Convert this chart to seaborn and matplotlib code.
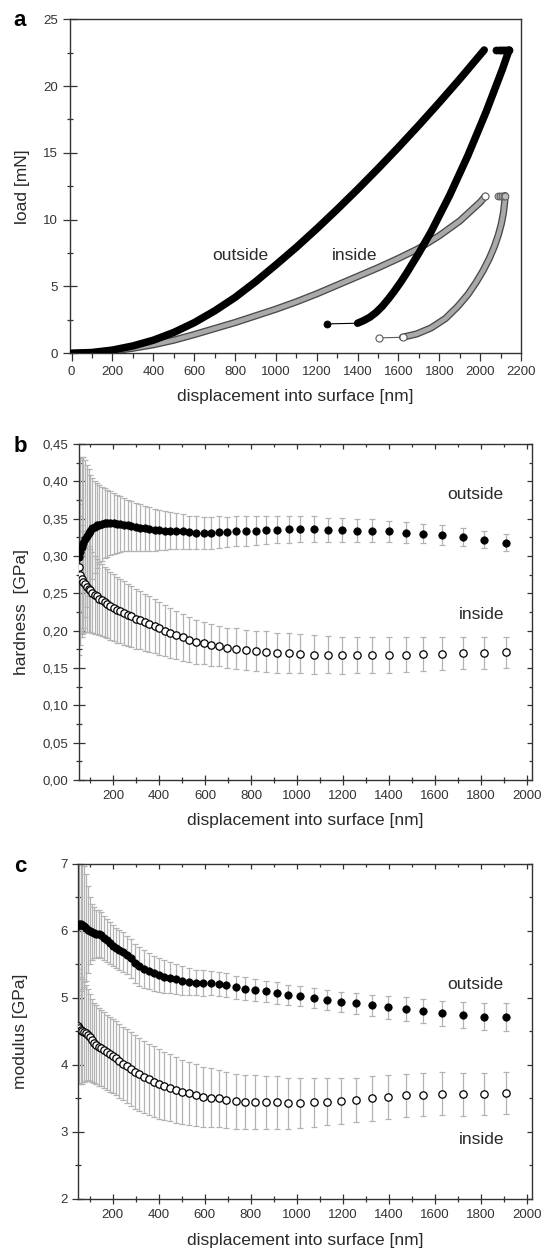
import matplotlib
matplotlib.use('Agg')
import matplotlib.pyplot as plt
from matplotlib.ticker import MultipleLocator, FuncFormatter
import seaborn as sns

# ---- panel a: load vs displacement ----
out_load_x = [0, 100, 200, 300, 400, 500, 600, 700, 800, 900, 1000, 1100, 1200, 1300,
              1400, 1500, 1600, 1700, 1800, 1900, 2020]
out_load_y = [0, 0.06, 0.24, 0.55, 0.98, 1.56, 2.29, 3.17, 4.18, 5.35, 6.62, 7.93, 9.32,
              10.77, 12.27, 13.82, 15.42, 17.07, 18.77, 20.52, 22.7]
out_hold_x = [2080, 2090, 2100, 2110, 2120, 2130, 2142]
out_hold_y = [22.7, 22.7, 22.7, 22.7, 22.7, 22.7, 22.7]
out_unload_x = [2142, 2128, 2110, 2090, 2060, 2030, 2000, 1970, 1940, 1910, 1880, 1850,
                1820, 1790, 1760, 1730, 1700, 1670, 1640, 1610, 1580, 1550, 1520, 1490,
                1460, 1430, 1400]
out_unload_y = [22.7, 22.1, 21.3, 20.5, 19.3, 18.1, 17.0, 15.9, 14.8, 13.8, 12.8, 11.8,
                10.9, 10.0, 9.1, 8.3, 7.5, 6.75, 6.0, 5.3, 4.65, 4.05, 3.5, 3.05,
                2.7, 2.45, 2.25]
out_tail_x = [1400, 1252]
out_tail_y = [2.25, 2.2]

in_load_x = [0, 100, 200, 300, 400, 500, 600, 700, 800, 900, 1000, 1100, 1200, 1300,
             1400, 1500, 1600, 1700, 1800, 1900, 2000, 2025]
in_load_y = [0, 0.04, 0.17, 0.38, 0.64, 0.98, 1.4, 1.85, 2.3, 2.8, 3.3, 3.85, 4.45, 5.1,
             5.75, 6.4, 7.1, 7.85, 8.8, 9.9, 11.3, 11.75]
in_hold_x = [2085, 2095, 2105, 2115, 2122]
in_hold_y = [11.8, 11.8, 11.8, 11.8, 11.8]
in_unload_x = [2122, 2120, 2114, 2104, 2090, 2070, 2045, 2015, 1980, 1940, 1890, 1830,
               1760, 1690, 1620]
in_unload_y = [11.8, 11.3, 10.5, 9.7, 8.9, 8.0, 7.1, 6.2, 5.3, 4.4, 3.5, 2.6,
               1.9, 1.45, 1.2]
in_tail_x = [1620, 1505]
in_tail_y = [1.2, 1.15]

# ---- panels b, c: hardness and modulus vs displacement ----
disp = [50, 56, 62, 69, 76, 84, 92, 100, 109, 119, 129, 139, 150, 162, 174, 187, 201,
        215, 230, 246, 262, 279, 297, 316, 336, 357, 380, 401, 425, 449, 475, 502, 531,
        561, 593, 626, 661, 695, 735, 777, 821, 866, 913, 963, 1015, 1074, 1133, 1195,
        1260, 1328, 1399, 1475, 1550, 1633, 1724, 1814, 1909]

hard_out = [0.298, 0.306, 0.312, 0.318, 0.323, 0.327, 0.331, 0.334, 0.337, 0.339, 0.341,
            0.342, 0.343, 0.344, 0.344, 0.344, 0.344, 0.343, 0.343, 0.342, 0.341, 0.340,
            0.339, 0.338, 0.337, 0.336, 0.335, 0.335, 0.334, 0.334, 0.333, 0.333, 0.332,
            0.331, 0.331, 0.331, 0.332, 0.332, 0.333, 0.334, 0.334, 0.335, 0.335, 0.336,
            0.336, 0.336, 0.335, 0.335, 0.334, 0.334, 0.333, 0.331, 0.330, 0.328, 0.325,
            0.322, 0.318]
hard_out_err = [0.13, 0.125, 0.12, 0.115, 0.105, 0.095, 0.085, 0.075, 0.068, 0.062, 0.057,
                0.053, 0.05, 0.047, 0.045, 0.043, 0.041, 0.039, 0.037, 0.035, 0.034, 0.033,
                0.032, 0.031, 0.030, 0.029, 0.028, 0.027, 0.026, 0.025, 0.024, 0.023, 0.022,
                0.022, 0.021, 0.021, 0.021, 0.020, 0.020, 0.020, 0.019, 0.019, 0.018, 0.018,
                0.017, 0.017, 0.016, 0.016, 0.015, 0.015, 0.014, 0.014, 0.013, 0.013, 0.012,
                0.011, 0.011]
hard_in = [0.285, 0.275, 0.269, 0.265, 0.262, 0.259, 0.256, 0.254, 0.251, 0.248, 0.246,
           0.243, 0.241, 0.238, 0.236, 0.233, 0.231, 0.228, 0.226, 0.224, 0.221, 0.219,
           0.216, 0.214, 0.211, 0.209, 0.206, 0.203, 0.200, 0.197, 0.194, 0.191, 0.188,
           0.185, 0.183, 0.181, 0.179, 0.177, 0.176, 0.174, 0.173, 0.172, 0.170, 0.170,
           0.169, 0.168, 0.168, 0.167, 0.167, 0.167, 0.167, 0.168, 0.169, 0.169, 0.170,
           0.170, 0.171]
hard_in_err = [0.085, 0.078, 0.073, 0.068, 0.064, 0.061, 0.058, 0.056, 0.054, 0.052, 0.050,
               0.049, 0.048, 0.047, 0.046, 0.045, 0.045, 0.044, 0.043, 0.043, 0.042, 0.041,
               0.040, 0.039, 0.038, 0.037, 0.036, 0.035, 0.034, 0.033, 0.032, 0.031, 0.030,
               0.029, 0.028, 0.028, 0.027, 0.027, 0.027, 0.027, 0.027, 0.027, 0.027, 0.027,
               0.026, 0.026, 0.025, 0.025, 0.024, 0.024, 0.024, 0.023, 0.023, 0.022, 0.022,
               0.021, 0.021]

mod_out = [6.08, 6.10, 6.10, 6.09, 6.07, 6.05, 6.02, 6.00, 5.98, 5.97, 5.96, 5.96, 5.94,
           5.90, 5.86, 5.82, 5.78, 5.74, 5.71, 5.68, 5.64, 5.59, 5.52, 5.47, 5.43, 5.40,
           5.37, 5.34, 5.32, 5.30, 5.28, 5.26, 5.24, 5.23, 5.22, 5.22, 5.21, 5.19, 5.16,
           5.14, 5.12, 5.10, 5.075, 5.05, 5.025, 5.00, 4.97, 4.945, 4.92, 4.89, 4.86, 4.83,
           4.80, 4.77, 4.745, 4.72, 4.72]
mod_out_err = [1.1, 1.05, 1.0, 0.95, 0.9, 0.8, 0.65, 0.5, 0.42, 0.38, 0.36, 0.35, 0.34,
               0.33, 0.32, 0.31, 0.31, 0.30, 0.30, 0.30, 0.29, 0.29, 0.29, 0.29, 0.28, 0.27,
               0.26, 0.25, 0.24, 0.23, 0.22, 0.21, 0.20, 0.19, 0.19, 0.18, 0.18, 0.18, 0.17,
               0.17, 0.16, 0.16, 0.16, 0.15, 0.15, 0.15, 0.15, 0.15, 0.16, 0.16, 0.17, 0.18,
               0.18, 0.19, 0.19, 0.20, 0.21]
mod_in = [4.58, 4.55, 4.52, 4.50, 4.49, 4.48, 4.45, 4.41, 4.37, 4.33, 4.30, 4.27, 4.25,
          4.22, 4.19, 4.16, 4.13, 4.10, 4.06, 4.02, 3.98, 3.94, 3.90, 3.86, 3.82, 3.79,
          3.75, 3.72, 3.69, 3.66, 3.63, 3.60, 3.58, 3.55, 3.52, 3.51, 3.50, 3.48, 3.46,
          3.45, 3.45, 3.44, 3.44, 3.43, 3.43, 3.44, 3.45, 3.46, 3.48, 3.50, 3.52, 3.55,
          3.556, 3.57, 3.56, 3.57, 3.58]
mod_in_err = [0.85, 0.82, 0.8, 0.78, 0.75, 0.72, 0.68, 0.65, 0.62, 0.6, 0.59, 0.58, 0.57,
              0.57, 0.56, 0.56, 0.55, 0.55, 0.55, 0.55, 0.55, 0.55, 0.55, 0.54, 0.54, 0.53,
              0.53, 0.52, 0.51, 0.5, 0.49, 0.48, 0.47, 0.46, 0.45, 0.44, 0.43, 0.42, 0.41,
              0.4, 0.4, 0.39, 0.39, 0.38, 0.37, 0.36, 0.35, 0.34, 0.33, 0.33, 0.33, 0.32,
              0.32, 0.32, 0.32, 0.31, 0.31]

sns.set_style("ticks")
plt.rcParams['font.family'] = ['Liberation Sans', 'DejaVu Sans']
plt.rcParams['axes.edgecolor'] = '#333333'
plt.rcParams['axes.linewidth'] = 1.0

TXT = '#2a2a2a'
fig = plt.figure(figsize=(5.44, 12.51), dpi=100)

ax_a = fig.add_axes([0.1287, 0.7176, 0.829, 0.267])
ax_b = fig.add_axes([0.1458, 0.3765, 0.8316, 0.2686])
ax_c = fig.add_axes([0.1443, 0.0416, 0.8331, 0.2678])


def comma(v, pos, nd):
	return f"{v:.{nd}f}".replace('.', ',')


def style_ticks(ax, xmaj, xmin, ymaj, ymin, xdir, ydir, xlen, ylen, mirror):
	ax.xaxis.set_major_locator(MultipleLocator(xmaj))
	ax.xaxis.set_minor_locator(MultipleLocator(xmin))
	ax.yaxis.set_major_locator(MultipleLocator(ymaj))
	ax.yaxis.set_minor_locator(MultipleLocator(ymin))
	ax.tick_params(axis='x', which='major', direction=xdir, length=xlen[0], width=0.9,
				   color='#333333', labelsize=9.5, labelcolor='#333333', pad=3.5)
	ax.tick_params(axis='x', which='minor', direction=xdir, length=xlen[1], width=0.9,
				   color='#333333')
	ax.tick_params(axis='y', which='major', direction=ydir, length=ylen[0], width=0.9,
				   color='#333333', labelsize=9.5, labelcolor='#333333', pad=3.5)
	ax.tick_params(axis='y', which='minor', direction=ydir, length=ylen[1], width=0.9,
				   color='#333333')
	for s in ax.spines.values():
		s.set_visible(True)
		s.set_color('#333333')
	if mirror:
		top = ax.secondary_xaxis('top')
		top.xaxis.set_major_locator(MultipleLocator(xmaj))
		top.xaxis.set_minor_locator(MultipleLocator(xmin))
		top.tick_params(axis='x', which='major', direction='in', length=3.5, width=0.9,
						color='#333333', labeltop=False)
		top.tick_params(axis='x', which='minor', direction='in', length=2.2, width=0.9,
						color='#333333')
		top.spines['top'].set_visible(False)
		right = ax.secondary_yaxis('right')
		right.yaxis.set_major_locator(MultipleLocator(ymaj))
		right.yaxis.set_minor_locator(MultipleLocator(ymin))
		right.tick_params(axis='y', which='major', direction='in', length=3.5, width=0.9,
						  color='#333333', labelright=False)
		right.tick_params(axis='y', which='minor', direction='in', length=2.2, width=0.9,
						  color='#333333')
		right.spines['right'].set_visible(False)


# ---- panel a ----
ax = ax_a
thick = dict(sort=False, estimator=None, ax=ax, solid_capstyle='round',
			 solid_joinstyle='round')
sns.lineplot(x=out_load_x, y=out_load_y, color='black', linewidth=5.4, zorder=3, **thick)
sns.lineplot(x=out_unload_x, y=out_unload_y, color='black', linewidth=5.4, zorder=3, **thick)
sns.scatterplot(x=out_hold_x, y=out_hold_y, ax=ax, color='black', s=26,
				edgecolor='black', linewidth=0.5, zorder=3)
sns.lineplot(x=out_tail_x, y=out_tail_y, sort=False, estimator=None, ax=ax,
			 color='black', linewidth=0.8, zorder=2)
sns.scatterplot(x=out_tail_x[-1:], y=out_tail_y[-1:], ax=ax, color='black', s=26,
				edgecolor='black', linewidth=0.5, zorder=3)

for xs, ys in [(in_load_x, in_load_y), (in_unload_x, in_unload_y)]:
	sns.lineplot(x=xs, y=ys, color='#4a4a4a', linewidth=5.2, zorder=2, **thick)
	sns.lineplot(x=xs, y=ys, color='#a9a9a9', linewidth=3.3, zorder=2, **thick)
sns.scatterplot(x=in_hold_x, y=in_hold_y, ax=ax, color='#bdbdbd', s=24,
				edgecolor='#5a5a5a', linewidth=0.7, zorder=3)
sns.scatterplot(x=in_load_x[-1:], y=in_load_y[-1:], ax=ax, color='white', s=26,
				edgecolor='#5a5a5a', linewidth=0.8, zorder=4)
sns.lineplot(x=in_tail_x, y=in_tail_y, sort=False, estimator=None, ax=ax,
			 color='#5a5a5a', linewidth=0.8, zorder=2)
sns.scatterplot(x=in_tail_x, y=in_tail_y, ax=ax, color='white', s=26,
				edgecolor='#5a5a5a', linewidth=0.8, zorder=4)

ax.text(825, 7.35, 'outside', ha='center', va='center', fontsize=12.5, color=TXT)
ax.text(1384, 7.35, 'inside', ha='center', va='center', fontsize=12.5, color=TXT)
ax.set_xlim(-8, 2200)
ax.set_ylim(0, 25)
style_ticks(ax, 200, 100, 5, 2.5, 'out', 'inout', (5.5, 3.5), (10, 5), False)
ax.set_xlabel('displacement into surface [nm]', fontsize=12.5, color=TXT)
ax.set_ylabel('load [mN]', fontsize=12.5, color=TXT)
ax.xaxis.set_label_coords(0.5, -0.107)
ax.yaxis.set_label_coords(-0.089, 0.5)


# ---- panels b, c ----
def property_panel(ax, y_out, e_out, y_in, e_in):
	ax.errorbar(disp, y_out, yerr=e_out, fmt='none', ecolor='#b3b3b3', elinewidth=0.9,
				capsize=2.5, capthick=0.9, zorder=1)
	ax.errorbar(disp, y_in, yerr=e_in, fmt='none', ecolor='#b3b3b3', elinewidth=0.9,
				capsize=2.5, capthick=0.9, zorder=1)
	sns.scatterplot(x=disp, y=y_out, ax=ax, color='black', s=28, edgecolor='black',
					linewidth=0.6, zorder=3)
	sns.scatterplot(x=disp, y=y_in, ax=ax, color='white', s=28, edgecolor='black',
					linewidth=0.9, zorder=3)


ax = ax_b
property_panel(ax, hard_out, hard_out_err, hard_in, hard_in_err)
ax.text(1776, 0.382, 'outside', ha='center', va='center', fontsize=12.5, color=TXT)
ax.text(1804, 0.221, 'inside', ha='center', va='center', fontsize=12.5, color=TXT)
ax.set_xlim(52, 2022)
ax.set_ylim(0, 0.45)
style_ticks(ax, 200, 100, 0.05, 0.025, 'inout', 'inout', (7, 5), (8.5, 5), True)
ax.yaxis.set_major_formatter(FuncFormatter(lambda v, p: comma(v, p, 2)))
ax.set_xlabel('displacement into surface [nm]', fontsize=12.5, color=TXT)
ax.set_ylabel('hardness  [GPa]', fontsize=12.5, color=TXT)
ax.xaxis.set_label_coords(0.5, -0.098)
ax.yaxis.set_label_coords(-0.111, 0.5)

ax = ax_c
property_panel(ax, mod_out, mod_out_err, mod_in, mod_in_err)
ax.text(1776, 5.2, 'outside', ha='center', va='center', fontsize=12.5, color=TXT)
ax.text(1804, 2.88, 'inside', ha='center', va='center', fontsize=12.5, color=TXT)
ax.set_xlim(52, 2022)
ax.set_ylim(2, 7)
style_ticks(ax, 200, 100, 1, 0.5, 'inout', 'inout', (7, 5), (8.5, 5), True)
ax.set_xlabel('displacement into surface [nm]', fontsize=12.5, color=TXT)
ax.set_ylabel('modulus [GPa]', fontsize=12.5, color=TXT)
ax.xaxis.set_label_coords(0.5, -0.101)
ax.yaxis.set_label_coords(-0.111, 0.5)

for lab, ypix in [('a', 20), ('b', 447), ('c', 867)]:
	fig.text(20 / 544, 1 - ypix / 1251, lab, ha='center', va='center', fontsize=16,
			 fontweight='bold', color='black')

fig.savefig('out.png', dpi=100)
